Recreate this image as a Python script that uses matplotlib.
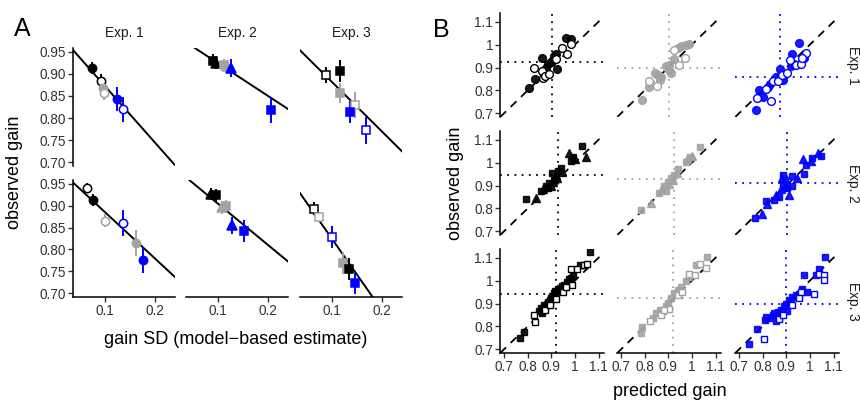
import matplotlib
matplotlib.use("Agg")
import matplotlib.pyplot as plt
import numpy as np

plt.rcParams['font.family'] = ['Liberation Sans', 'DejaVu Sans']

W, H = 860, 401
# ---------------- DATA ----------------
exp_labels = ["Exp. 1", "Exp. 2", "Exp. 3"]
A_xticks = [0.1, 0.2]
A_yticks = [0.70, 0.75, 0.80, 0.85, 0.90, 0.95]
B_ticks = [0.7, 0.8, 0.9, 1.0, 1.1]
B_ticklabels = ["0.7", "0.8", "0.9", "1", "1.1"]

# Panel A: fitted lines (intercept, slope) per row (2) x column (3)
A_fit_intercept = [[1.000, 0.998, 0.993], [0.991, 0.998, 0.986]]
A_fit_slope = [[-1.28, -0.74, -1.12], [-1.06, -0.94, -1.63]]

# Panel A points: (gain SD, observed gain, error) ; group: k=black, g=gray, b=blue
# row 1
A_r1c1_x = [0.074, 0.091, 0.095, 0.097, 0.123, 0.135]
A_r1c1_y = [0.913, 0.884, 0.868, 0.857, 0.843, 0.820]
A_r1c1_e = [0.014, 0.015, 0.020, 0.015, 0.027, 0.028]
A_r1c1_g = ['k', 'k', 'g', 'g', 'b', 'b']
A_r1c1_f = [1, 0, 1, 0, 1, 0]

A_r1c2_x = [0.090, 0.096, 0.112, 0.117, 0.125, 0.205]
A_r1c2_y = [0.930, 0.926, 0.921, 0.917, 0.913, 0.818]
A_r1c2_e = [0.015, 0.015, 0.012, 0.012, 0.020, 0.030]
A_r1c2_g = ['k', 'k', 'g', 'g', 'b', 'b']
A_r1c2_m = ['s', '^', 's', '^', '^', 's']

A_r1c3_x = [0.087, 0.115, 0.115, 0.145, 0.135, 0.167]
A_r1c3_y = [0.898, 0.907, 0.856, 0.830, 0.814, 0.772]
A_r1c3_e = [0.018, 0.025, 0.023, 0.030, 0.025, 0.030]
A_r1c3_g = ['k', 'k', 'g', 'g', 'b', 'b']
A_r1c3_f = [0, 1, 1, 0, 1, 0]

# row 2
A_r2c1_x = [0.064, 0.076, 0.100, 0.135, 0.162, 0.176]
A_r2c1_y = [0.941, 0.913, 0.866, 0.860, 0.814, 0.775]
A_r2c1_e = [0.010, 0.013, 0.015, 0.030, 0.030, 0.030]
A_r2c1_g = ['k', 'k', 'g', 'b', 'g', 'b']
A_r2c1_f = [0, 1, 0, 0, 1, 1]

A_r2c2_x = [0.085, 0.095, 0.108, 0.115, 0.128, 0.151]
A_r2c2_y = [0.927, 0.924, 0.897, 0.899, 0.855, 0.843]
A_r2c2_e = [0.013, 0.015, 0.015, 0.015, 0.020, 0.025]
A_r2c2_g = ['k', 'k', 'g', 'g', 'b', 'b']
A_r2c2_m = ['^', 's', '^', 's', '^', 's']

A_r2c3_x = [0.064, 0.074, 0.099, 0.121, 0.134, 0.146]
A_r2c3_y = [0.893, 0.874, 0.829, 0.769, 0.756, 0.722]
A_r2c3_e = [0.015, 0.012, 0.025, 0.025, 0.025, 0.025]
A_r2c3_g = ['k', 'g', 'b', 'g', 'k', 'b']
A_r2c3_f = [0, 0, 0, 1, 1, 1]

# Panel B: (predicted gain, observed gain)
# Exp. 1 (circles)
B_e1_k_filled = [(0.805, 0.81), (0.833, 0.848), (0.861, 0.941), (0.885, 0.915), (0.899, 0.922),
                 (0.913, 0.951), (0.92, 0.958), (0.926, 0.893), (0.964, 1.028), (0.982, 1.023),
                 (0.878, 0.90), (0.905, 0.93)]
B_e1_k_open = [(0.825, 0.90), (0.861, 0.885), (0.867, 0.854), (0.875, 0.864), (0.945, 0.984),
               (0.968, 0.961), (0.982, 1.002), (0.92, 0.936), (0.89, 0.87)]
B_e1_g_filled = [(0.79, 0.758), (0.818, 0.816), (0.842, 0.874), (0.855, 0.868), (0.87, 0.86),
                 (0.89, 0.907), (0.901, 0.912), (0.911, 0.878), (0.925, 0.936), (0.939, 0.987),
                 (0.953, 0.994), (0.974, 0.999), (0.988, 1.002), (0.865, 0.845), (0.905, 0.89)]
B_e1_g_open = [(0.851, 0.82), (0.925, 0.975), (0.946, 0.912), (0.971, 0.943), (0.82, 0.84)]
B_e1_b_filled = [(0.771, 0.715), (0.785, 0.802), (0.801, 0.773), (0.822, 0.816), (0.832, 0.83),
                 (0.857, 0.86), (0.874, 0.893), (0.888, 0.845), (0.892, 0.868), (0.92, 0.907),
                 (0.926, 0.958), (0.933, 0.915), (0.954, 1.009), (0.975, 0.943)]
B_e1_b_open = [(0.776, 0.767), (0.836, 0.755), (0.815, 0.805), (0.843, 0.842), (0.867, 0.842),
               (0.88, 0.868), (0.905, 0.878), (0.915, 0.932), (0.94, 0.912), (0.961, 0.917),
               (0.982, 0.965), (0.965, 0.94)]
# Exp. 2 (squares and triangles)
B_e2_k_sq = [(0.792, 0.839), (0.857, 0.878), (0.878, 0.897), (0.892, 0.911), (0.903, 0.955),
             (0.913, 0.926), (0.93, 0.965), (0.94, 0.977), (0.982, 1.009), (0.992, 1.023),
             (1.03, 1.071), (0.885, 0.89)]
B_e2_k_tri = [(0.836, 0.846), (0.867, 0.886), (0.899, 0.90), (0.92, 0.948), (0.925, 0.935),
              (0.945, 0.96), (0.975, 1.042), (0.999, 1.015), (1.045, 1.023), (0.909, 0.914)]
B_e2_g_sq = [(0.786, 0.791), (0.86, 0.868), (0.883, 0.897), (0.897, 0.916), (0.911, 0.933),
             (0.925, 0.948), (0.943, 0.97), (0.974, 1.003), (0.99, 1.023), (1.036, 1.066),
             (0.89, 0.875)]
B_e2_g_tri = [(0.828, 0.824), (0.874, 0.89), (0.905, 0.905), (0.935, 0.955), (0.918, 0.922),
              (0.98, 1.017), (0.999, 1.028)]
B_e2_b_sq = [(0.767, 0.757), (0.813, 0.832), (0.846, 0.835), (0.868, 0.849), (0.885, 0.904),
             (0.888, 0.948), (0.905, 0.889), (0.925, 0.90), (0.926, 0.94), (0.975, 0.95),
             (0.982, 0.991), (1.01, 1.02), (1.045, 1.027), (0.895, 0.925)]
B_e2_b_tri = [(0.799, 0.777), (0.82, 0.82), (0.857, 0.86), (0.878, 0.883), (0.896, 0.90),
              (0.912, 0.858), (0.947, 0.933), (0.971, 1.017), (1.003, 1.009), (1.035, 1.042),
              (0.88, 0.935)]
# Exp. 3 (squares)
B_e3_k_filled = [(0.767, 0.751), (0.783, 0.777), (0.85, 0.867), (0.855, 0.88), (0.862, 0.872),
                 (0.868, 0.893), (0.875, 0.886), (0.88, 0.90), (0.887, 0.905), (0.893, 0.915),
                 (0.90, 0.925), (0.905, 0.935), (0.91, 0.945), (0.915, 0.955), (0.92, 0.95),
                 (0.928, 0.962), (0.935, 0.968), (0.945, 0.975), (0.955, 0.98), (0.965, 0.995),
                 (0.975, 1.005), (0.982, 1.012), (0.99, 1.02), (1.02, 1.07), (1.04, 1.07),
                 (1.065, 1.125), (0.86, 0.86), (0.87, 0.875), (0.895, 0.90)]
B_e3_k_open = [(0.825, 0.85), (0.829, 0.82), (0.982, 1.05), (1.01, 1.05), (1.04, 1.07),
               (1.051, 1.074), (0.986, 0.983), (0.872, 0.87), (0.893, 0.895), (0.92, 0.92),
               (0.95, 0.95), (0.962, 0.97)]
B_e3_g_filled = [(0.786, 0.77), (0.79, 0.799), (0.835, 0.838), (0.849, 0.857), (0.863, 0.872),
                 (0.877, 0.868), (0.89, 0.887), (0.897, 0.901), (0.911, 0.922), (0.925, 0.944),
                 (0.939, 0.958), (0.953, 0.973), (0.974, 0.997), (0.988, 1.016), (1.018, 1.067),
                 (1.064, 1.103)]
B_e3_g_open = [(0.821, 0.823), (0.87, 0.849), (0.904, 0.878), (0.939, 0.936), (0.988, 1.03),
               (1.013, 1.023), (1.036, 1.074), (1.06, 1.055), (0.96, 0.951), (0.883, 0.872)]
B_e3_b_filled = [(0.743, 0.722), (0.776, 0.789), (0.808, 0.828), (0.815, 0.842), (0.829, 0.838),
                 (0.843, 0.849), (0.85, 0.857), (0.864, 0.864), (0.878, 0.871), (0.892, 0.89),
                 (0.899, 0.90), (0.912, 0.915), (0.926, 0.929), (0.94, 0.936), (0.954, 0.943),
                 (0.968, 0.965), (0.975, 1.023), (0.989, 0.951), (1.024, 1.023), (1.038, 1.052),
                 (1.065, 1.103), (0.905, 0.867), (0.919, 0.90), (0.871, 0.835), (0.857, 0.823)]
B_e3_b_open = [(0.804, 0.745), (0.868, 0.832), (0.888, 0.852), (0.926, 0.893), (0.961, 0.951),
               (1.017, 0.943), (1.038, 1.03), (1.06, 1.026), (1.06, 1.002), (0.954, 0.922)]

# Panel B reference lines: mean predicted (vertical) and mean observed (horizontal)
B_mean_pred = [[0.903, 0.901, 0.873], [0.930, 0.925, 0.905], [0.922, 0.921, 0.900]]
B_mean_obs = [[0.922, 0.900, 0.860], [0.948, 0.930, 0.909], [0.941, 0.922, 0.900]]

# ---------------- STYLE ----------------
COL = {'k': '#000000', 'g': '#a3a3a3', 'b': '#0000ff'}
col_order = ['k', 'g', 'b']
TXT = '#1a1a1a'
TICKC = '#333333'

fig = plt.figure(figsize=(W / 100, H / 100), dpi=100)


def add_ax(l, t, r, b):
    return fig.add_axes([l / W, 1 - b / H, (r - l) / W, (b - t) / H])


def style_ax(ax, left, bottom):
    for s in ['top', 'right']:
        ax.spines[s].set_visible(False)
    ax.spines['left'].set_visible(left)
    ax.spines['bottom'].set_visible(bottom)
    for s in ['left', 'bottom']:
        ax.spines[s].set_linewidth(1.1)
    ax.tick_params(axis='both', direction='out', length=3.5, width=1.0,
                   labelsize=9.8, colors=TICKC, pad=1.5)
    ax.tick_params(axis='x', labelbottom=bottom, bottom=bottom)
    ax.tick_params(axis='y', labelleft=left, left=left)
    ax.patch.set_alpha(0)


# ---------- Panel A ----------
A_cols = [(72.7, 175), (186, 288), (300, 402)]
A_rows = [(48, 166), (180, 297)]
A_xlim = (0.035, 0.24)
A_ylim = (0.691, 0.959)

A_data = {
    (0, 0): (A_r1c1_x, A_r1c1_y, A_r1c1_e, A_r1c1_g, ['o'] * 6, A_r1c1_f),
    (0, 1): (A_r1c2_x, A_r1c2_y, A_r1c2_e, A_r1c2_g, A_r1c2_m, [1] * 6),
    (0, 2): (A_r1c3_x, A_r1c3_y, A_r1c3_e, A_r1c3_g, ['s'] * 6, A_r1c3_f),
    (1, 0): (A_r2c1_x, A_r2c1_y, A_r2c1_e, A_r2c1_g, ['o'] * 6, A_r2c1_f),
    (1, 1): (A_r2c2_x, A_r2c2_y, A_r2c2_e, A_r2c2_g, A_r2c2_m, [1] * 6),
    (1, 2): (A_r2c3_x, A_r2c3_y, A_r2c3_e, A_r2c3_g, ['s'] * 6, A_r2c3_f),
}

for r, (t, b) in enumerate(A_rows):
    for c, (l, rr) in enumerate(A_cols):
        ax = add_ax(l, t, rr, b)
        ax.set_xlim(*A_xlim)
        ax.set_ylim(*A_ylim)
        ax.set_xticks(A_xticks)
        ax.set_xticklabels([f"{v:.1f}" for v in A_xticks])
        ax.set_yticks(A_yticks)
        ax.set_yticklabels([f"{v:.2f}" for v in A_yticks])
        style_ax(ax, left=(c == 0), bottom=(r == 1))
        ax.axline((0, A_fit_intercept[r][c]), slope=A_fit_slope[r][c], color='black', lw=1.4, zorder=2)
        xs, ys, es, gs, ms, fs = A_data[(r, c)]
        for x, y, e, g, m, f in zip(xs, ys, es, gs, ms, fs):
            colr = COL[g]
            ax.errorbar(x, y, yerr=e, xerr=0.004, fmt='none', ecolor=colr, elinewidth=1.4,
                        capsize=0, zorder=3)
            ax.plot(x, y, marker=m, ms=6 if m != '^' else 6.5, mfc=colr if f else 'white',
                    mec=colr, mew=1.1, ls='none', zorder=4)
        if r == 0:
            ax.text(0.5, 1.0 + 15 / (b - t), exp_labels[c], transform=ax.transAxes,
                    ha='center', va='center', fontsize=9.8, color=TXT)

fig.text(22 / W, 1 - 29 / H, "A", fontsize=18, ha='center', va='center', color='black')
fig.text(15 / W, 1 - 172 / H, "observed gain", rotation=90, fontsize=13, ha='center',
         va='center', color='black')
fig.text(236 / W, 1 - 339 / H, "gain SD (model\u2212based estimate)", fontsize=13,
         ha='center', va='center', color='black')

# ---------- Panel B ----------
B_cols = [(500, 604), (617, 721), (735, 839)]
B_rows = [(13, 117), (131, 235), (249, 353)]
B_xlim = (0.683, 1.123)
B_ylim = (0.684, 1.138)

B_sets = [
    [(B_e1_k_filled, 'o', 1), (B_e1_k_open, 'o', 0)],
    [(B_e1_g_filled, 'o', 1), (B_e1_g_open, 'o', 0)],
    [(B_e1_b_filled, 'o', 1), (B_e1_b_open, 'o', 0)],
    [(B_e2_k_sq, 's', 1), (B_e2_k_tri, '^', 1)],
    [(B_e2_g_sq, 's', 1), (B_e2_g_tri, '^', 1)],
    [(B_e2_b_sq, 's', 1), (B_e2_b_tri, '^', 1)],
    [(B_e3_k_filled, 's', 1), (B_e3_k_open, 's', 0)],
    [(B_e3_g_filled, 's', 1), (B_e3_g_open, 's', 0)],
    [(B_e3_b_filled, 's', 1), (B_e3_b_open, 's', 0)],
]

for r, (t, b) in enumerate(B_rows):
    for c, (l, rr) in enumerate(B_cols):
        ax = add_ax(l, t, rr, b)
        ax.set_xlim(*B_xlim)
        ax.set_ylim(*B_ylim)
        ax.set_xticks(B_ticks)
        ax.set_xticklabels(B_ticklabels)
        ax.set_yticks(B_ticks)
        ax.set_yticklabels(B_ticklabels)
        style_ax(ax, left=(c == 0), bottom=(r == 2))
        colr = COL[col_order[c]]
        ax.axline((0.7, 0.7), slope=1, color='black', lw=1.3, ls=(0, (4.5, 3.5)), zorder=2)
        ax.axvline(B_mean_pred[r][c], color=colr, lw=1.3, ls=(0, (1, 3)), zorder=1)
        ax.axhline(B_mean_obs[r][c], color=colr, lw=1.3, ls=(0, (1, 3)), zorder=1)
        for pts, m, f in B_sets[r * 3 + c]:
            px = [p[0] for p in pts]
            py = [p[1] for p in pts]
            ms = 5.6 if m == 'o' else (5.0 if m == 's' else 5.8)
            ax.plot(px, py, marker=m, ls='none', ms=ms, mfc=colr if f else 'white',
                    mec=colr, mew=1.0, zorder=3 if f else 4, alpha=0.9 if f else 1)
        if c == 2:
            ax.text(1.0 + 14 / (rr - l), 0.5, exp_labels[r], transform=ax.transAxes,
                    rotation=270, ha='center', va='center', fontsize=9.8, color=TXT)

fig.text(441 / W, 1 - 30 / H, "B", fontsize=18, ha='center', va='center', color='black')
fig.text(455 / W, 1 - 183 / H, "observed gain", rotation=90, fontsize=13, ha='center',
         va='center', color='black')
fig.text(670 / W, 1 - 391 / H, "predicted gain", fontsize=13, ha='center', va='center',
         color='black')

fig.savefig("out.png", dpi=100)
